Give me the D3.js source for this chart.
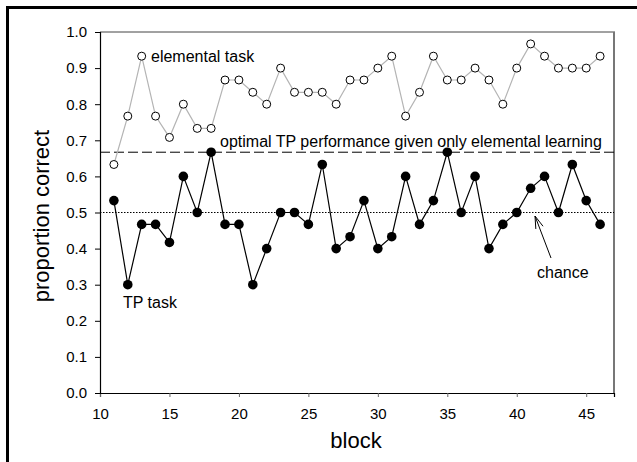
<!DOCTYPE html>
<html><head><meta charset="utf-8">
<script src="https://cdn.jsdelivr.net/npm/d3@7"></script>
<style>body{margin:0;background:#fff}svg{display:block}text{font-family:"Liberation Sans",Arial,sans-serif}</style>
</head><body>
<script>
const blocks = d3.range(11, 47);
const elemental = [0.633,0.767,0.933,0.767,0.708,0.8,0.733,0.733,0.867,0.867,0.833,0.8,0.9,0.833,0.833,0.833,0.8,0.867,0.867,0.9,0.933,0.767,0.833,0.933,0.867,0.867,0.9,0.867,0.8,0.9,0.967,0.933,0.9,0.9,0.9,0.933];
const tpTask = [0.533,0.3,0.467,0.467,0.417,0.6,0.5,0.667,0.467,0.467,0.3,0.4,0.5,0.5,0.467,0.633,0.4,0.433,0.533,0.4,0.433,0.6,0.467,0.533,0.667,0.5,0.6,0.4,0.467,0.5,0.567,0.6,0.5,0.633,0.533,0.467];
const xTicks = [10,15,20,25,30,35,40,45];
const yTicks = [0,0.1,0.2,0.3,0.4,0.5,0.6,0.7,0.8,0.9,1.0];
const optimalLevel = 0.667, chanceLevel = 0.5;

const W = 637, H = 462;
const svg = d3.select("body").append("svg").attr("width", W).attr("height", H);
svg.append("rect").attr("x", 7.5).attr("y", 7.5).attr("width", W + 10).attr("height", H + 10)
  .attr("fill", "none").attr("stroke", "#000").attr("stroke-width", 3);

const L = 100, R = 614, T = 32, B = 393;
const x = d3.scaleLinear().domain([10, 47]).range([L, R]);
const y = d3.scaleLinear().domain([0, 1]).range([B, T]);

// frame top/right gray
svg.append("line").attr("x1", L).attr("x2", R + 1).attr("y1", T).attr("y2", T).attr("stroke", "#444").attr("stroke-width", 1);
svg.append("line").attr("x1", R).attr("x2", R).attr("y1", T).attr("y2", B).attr("stroke", "#777").attr("stroke-width", 2);

const xa = svg.append("g").attr("transform", `translate(0,${B})`)
  .call(d3.axisBottom(x).tickValues(xTicks).tickSize(4).tickPadding(11).tickFormat(d3.format("d")));
const ya = svg.append("g").attr("transform", `translate(${L},0)`)
  .call(d3.axisLeft(y).tickValues(yTicks).tickSize(5).tickPadding(8).tickFormat(d3.format(".1f")));
[xa, ya].forEach(a => {
  a.select(".domain").attr("stroke", "#000").attr("stroke-width", 1.2);
  a.selectAll("text").attr("font-size", 15).attr("fill", "#000").style("font-family", '"Liberation Sans",Arial,sans-serif');
  a.selectAll(".tick line").attr("stroke", "#000");
});
xa.selectAll(".tick line").attr("stroke", "#666");

// reference lines
svg.append("line").attr("x1", x(10)).attr("x2", x(47)).attr("y1", y(optimalLevel)).attr("y2", y(optimalLevel))
  .attr("stroke", "#000").attr("stroke-width", 1).attr("stroke-dasharray", "10,4");
svg.append("line").attr("x1", x(10)).attr("x2", x(47)).attr("y1", y(chanceLevel)).attr("y2", y(chanceLevel))
  .attr("stroke", "#000").attr("stroke-width", 1).attr("stroke-dasharray", "1.5,1.5");

const line = d3.line().x((d, i) => x(blocks[i])).y(d => y(d));
svg.append("path").datum(elemental).attr("d", line).attr("fill", "none").attr("stroke", "#b4b4b4").attr("stroke-width", 1.2);
svg.append("path").datum(tpTask).attr("d", line).attr("fill", "none").attr("stroke", "#000").attr("stroke-width", 1.2);

svg.append("g").selectAll("circle").data(elemental).join("circle")
  .attr("cx", (d, i) => x(blocks[i])).attr("cy", d => y(d)).attr("r", 4)
  .attr("fill", "#fff").attr("stroke", "#000").attr("stroke-width", 1);
svg.append("g").selectAll("circle").data(tpTask).join("circle")
  .attr("cx", (d, i) => x(blocks[i])).attr("cy", d => y(d)).attr("r", 4.8)
  .attr("fill", "#000");

// annotations
const ann = (t, xx, yy, fs) => svg.append("text").attr("x", xx).attr("y", yy).attr("font-size", fs || 16).attr("fill", "#000").text(t);
ann("elemental task", 151, y(0.933) + 5.5);
ann("optimal TP performance given only elemental learning", 220, y(optimalLevel) - 5);
ann("TP task", 123, 308);
ann("chance", 537, 278);
// arrow
const ax1 = 551, ay1 = 258, ax2 = 535, ay2 = 216;
svg.append("line").attr("x1", ax1).attr("y1", ay1).attr("x2", ax2).attr("y2", ay2).attr("stroke", "#000").attr("stroke-width", 1);
const ang = Math.atan2(ay2 - ay1, ax2 - ax1);
[0.3, -0.3].forEach(da => {
  svg.append("line").attr("x1", ax2).attr("y1", ay2)
    .attr("x2", ax2 - 13 * Math.cos(ang + da)).attr("y2", ay2 - 13 * Math.sin(ang + da))
    .attr("stroke", "#000").attr("stroke-width", 1);
});

svg.append("text").attr("transform", `translate(49,216) rotate(-90)`).attr("text-anchor", "middle")
  .attr("font-size", 22).text("proportion correct");
svg.append("text").attr("x", 356).attr("y", 448).attr("text-anchor", "middle").attr("font-size", 22).text("block");
</script>
</body></html>
